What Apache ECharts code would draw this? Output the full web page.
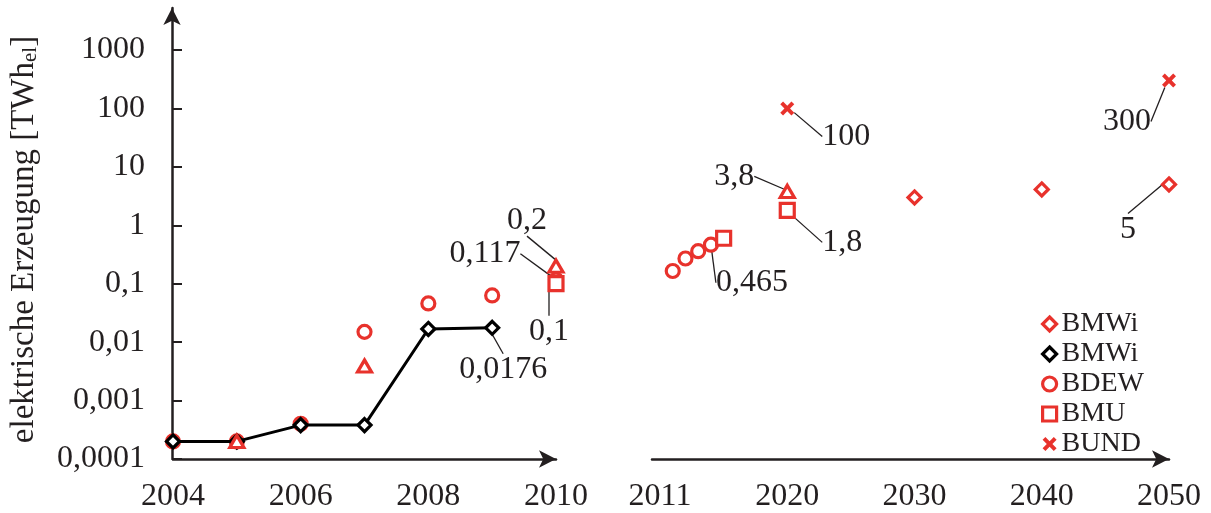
<!DOCTYPE html>
<html><head><meta charset="utf-8">
<script src="https://cdn.jsdelivr.net/npm/echarts@6/dist/echarts.min.js"></script>
<style>html,body{margin:0;padding:0;background:#fff}#c{width:1211px;height:513px}</style>
</head><body><div id="c"></div>
<script>
// ---- data ----
const bmwiIstX = [2004, 2005, 2006, 2007, 2008, 2009];
const bmwiIstY = [0.0002, 0.0002, 0.00038, 0.00038, 0.0168, 0.0176];
const bdewLeftX = [2004, 2005, 2006, 2007, 2008, 2009, 2010];
const bdewLeftY = [0.0002, 0.0002, 0.0004, 0.015, 0.046, 0.063, 0.117];
const triLeftX = [2005, 2007, 2010];
const triLeftY = [0.0002, 0.0039, 0.2];
const bmuLeftX = [2010];
const bmuLeftY = [0.1];
// right panel: axis positions (tick "2011" sits at position 2010)
const bdewRightX = [2011, 2012, 2013, 2014];
const bdewRightY = [0.165, 0.27, 0.36, 0.465];
const bmuRightX = [2015, 2020];
const bmuRightY = [0.6, 1.8];
const triRightX = [2020];
const triRightY = [3.8];
const bmwiProgX = [2030, 2040, 2050];
const bmwiProgY = [3, 4.1, 5];
const bundX = [2020, 2050];
const bundY = [100, 300];
const leftXTicks = [2004, 2006, 2008, 2010];
const rightXTickPos = [2010, 2020, 2030, 2040, 2050];
const rightXTickLabels = ['2011', '2020', '2030', '2040', '2050'];
const legendNames = ['BMWi (Prognose)', 'BMWi (Ist)', 'BDEW', 'BMU', 'BUND'];
// indices of annotated points per series
const annBdewL = [6], annIst = [5], annTriL = [2], annBmuL = [0], annBdewR = [3], annBmuR = [1], annTriR = [0], annProg = [2], annBund = [0, 1];

// ---- styles ----
const RED = '#e8322c', INK = '#231f20', FONT = 'Liberation Serif, Times New Roman, serif';
const labelOffsets = {'0,2': [-29, -46], '0,117': [-71, -26], '0,1': [-7, 48], '0,0176': [11, 42],
  '0,465': [41, 38], '3,8': [-53, -15], '1,8': [55, 32], '100': [59, 28], '300': [-42, 41], '5': [-41, 45]};
const fmt = v => String(v).replace('.', ',');
const crossPath = 'path://M2,0 L5,3 L8,0 L10,2 L7,5 L10,8 L8,10 L5,7 L2,10 L0,8 L3,5 L0,2 Z';

function build(xs, ys, ann) {
  return xs.map((x, i) => {
    const item = {value: [x, ys[i]]};
    if (ann.indexOf(i) >= 0) item.label = {show: true};
    return item;
  });
}
const labelCfg = {show: false, position: 'inside', formatter: p => fmt(p.value[1]),
  fontFamily: FONT, fontSize: 32, color: INK, textBorderWidth: 0, opacity: 1};
const labelLineCfg = {show: true, lineStyle: {color: INK, width: 1.3, opacity: 1}};
const layoutFn = p => { const o = labelOffsets[p.text]; return o ? {dx: o[0], dy: o[1]} : {}; };
const hollow = c => ({color: '#fff', borderColor: c, borderWidth: 3.2, opacity: 1});

function scatter(name, xs, ys, ann, grid, symbol, size, itemStyle, z) {
  return {type: 'scatter', name, xAxisIndex: grid, yAxisIndex: grid, data: build(xs, ys, ann),
    symbol, symbolSize: size, itemStyle, z, label: labelCfg, labelLine: labelLineCfg,
    labelLayout: layoutFn, emphasis: {disabled: true}, animation: false};
}

const logAxis = (idx, show) => ({
  type: 'log', logBase: 10, min: 0.0001, max: 1000, gridIndex: idx, show: show, splitNumber: 7,
  axisLine: {show: false}, splitLine: {show: false},
  axisTick: {show: true, inside: true, length: 9, lineStyle: {color: INK, width: 2}},
  axisLabel: {fontFamily: FONT, fontSize: 32, color: INK, margin: 28, formatter: v => fmt(v)},
  name: idx === 0 ? '{t|elektrische Erzeugung [TWh}{s|el}{t|]}' : '',
  nameLocation: 'middle', nameRotate: 90, nameGap: 132,
  nameTextStyle: {padding: [0, 0, 0, 30], rich: {
    t: {fontFamily: FONT, fontSize: 33, color: INK, verticalAlign: 'top', lineHeight: 33},
    s: {fontFamily: FONT, fontSize: 21, color: INK, verticalAlign: 'bottom', lineHeight: 21, padding: [19, 0, 0, 0]}
  }}
});

const axisLineStyle = {show: true, symbol: ['none', 'arrow'], symbolSize: [13, 17],
  lineStyle: {color: INK, width: 2.5}};

const option = {
  backgroundColor: '#fff',
  animation: false,
  grid: [
    {left: 172, width: 384, top: 50, bottom: 54},
    {left: 652, right: 42, top: 50, bottom: 54},
    {left: 172, width: 384, top: 8, bottom: 54}
  ],
  xAxis: [
    {type: 'value', gridIndex: 0, min: 2004, max: 2010, interval: 2,
      axisLine: axisLineStyle, axisTick: {show: false}, splitLine: {show: false},
      axisLabel: {fontFamily: FONT, fontSize: 32, color: INK, margin: 22, customValues: leftXTicks,
        formatter: v => String(v)}},
    {type: 'value', gridIndex: 1, min: 2009.37, max: 2050,
      axisLine: axisLineStyle, axisTick: {show: false}, splitLine: {show: false},
      axisLabel: {fontFamily: FONT, fontSize: 32, color: INK, margin: 22, customValues: rightXTickPos,
        formatter: v => rightXTickLabels[rightXTickPos.indexOf(v)] || ''}},
    {type: 'value', gridIndex: 2, show: false, min: 0, max: 1}
  ],
  yAxis: [
    logAxis(0, true),
    logAxis(1, false),
    {type: 'value', gridIndex: 2, min: 0, max: 1, axisLine: axisLineStyle,
      axisTick: {show: false}, axisLabel: {show: false}, splitLine: {show: false}}
  ],
  legend: {
    orient: 'vertical', left: 1036, top: 305, itemWidth: 14, itemHeight: 14, itemGap: 2,
    textStyle: {fontFamily: FONT, fontSize: 28, color: INK}, selectedMode: false,
    formatter: n => n.replace(/ \(.*\)$/, ''),
    data: [
      {name: legendNames[0], icon: 'diamond', itemStyle: hollow(RED)},
      {name: legendNames[1], icon: 'diamond', itemStyle: hollow('#000')},
      {name: legendNames[2], icon: 'circle', itemStyle: hollow(RED)},
      {name: legendNames[3], icon: 'rect', itemStyle: hollow(RED)},
      {name: legendNames[4], icon: crossPath, itemStyle: {color: RED, borderWidth: 0, opacity: 1}}
    ]
  },
  series: [
    scatter('BDEW', bdewLeftX, bdewLeftY, annBdewL, 0, 'circle', 13, hollow(RED), 2),
    {type: 'line', name: legendNames[1], xAxisIndex: 0, yAxisIndex: 0, data: build(bmwiIstX, bmwiIstY, annIst),
      symbol: 'diamond', symbolSize: 13, showAllSymbol: true, z: 3,
      itemStyle: hollow('#000'), lineStyle: {color: '#000', width: 3},
      label: labelCfg, labelLine: labelLineCfg, labelLayout: layoutFn, emphasis: {disabled: true}},
    scatter('Dreieck', triLeftX, triLeftY, annTriL, 0, 'triangle', [14, 12], hollow(RED), 4),
    scatter('BMU', bmuLeftX, bmuLeftY, annBmuL, 0, 'rect', 14, hollow(RED), 5),
    scatter('BDEW', bdewRightX, bdewRightY, annBdewR, 1, 'circle', 13, hollow(RED), 2),
    scatter('BMU', bmuRightX, bmuRightY, annBmuR, 1, 'rect', 14, hollow(RED), 5),
    scatter('Dreieck', triRightX, triRightY, annTriR, 1, 'triangle', [14, 12], hollow(RED), 4),
    scatter(legendNames[0], bmwiProgX, bmwiProgY, annProg, 1, 'diamond', 13, hollow(RED), 4),
    scatter('BUND', bundX, bundY, annBund, 1, crossPath, 14, {color: RED, opacity: 1}, 5)
  ]
};
const chart = echarts.init(document.getElementById('c'), null, {renderer: 'canvas'});
chart.setOption(option);
</script></body></html>
